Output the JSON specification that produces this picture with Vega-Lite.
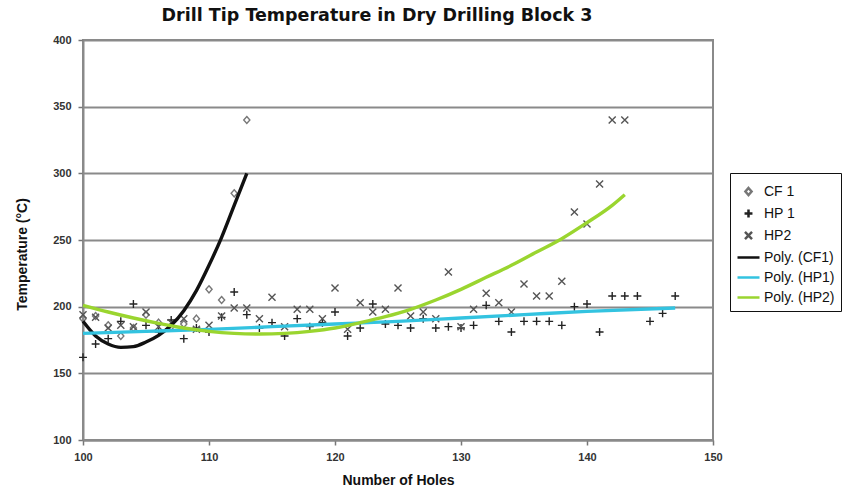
{
  "$schema": "https://vega.github.io/schema/vega-lite/v6.json",
  "width": 630,
  "height": 400,
  "autosize": {"type": "none"},
  "padding": {"left": 83, "top": 40, "right": 135, "bottom": 56},
  "background": "white",
  "config": {
    "font": "Liberation Sans",
    "view": {"stroke": "#8a8a8a", "strokeWidth": 2},
    "axis": {
      "domainColor": "#8a8a8a",
      "domainWidth": 2,
      "tickColor": "#777777",
      "tickWidth": 1.5,
      "tickSize": 5,
      "labelFlush": false,
      "labelFont": "Liberation Sans Narrow, Liberation Sans",
      "labelFontSize": 11,
      "labelFontWeight": "bold",
      "labelColor": "#333333",
      "titleFont": "Liberation Sans Narrow, Liberation Sans",
      "titleFontSize": 14,
      "titleFontWeight": "bold",
      "titleColor": "#111111"
    }
  },
  "title": {
    "text": "Drill Tip Temperature in Dry Drilling Block 3",
    "font": "DejaVu Sans",
    "fontSize": 17.5,
    "fontWeight": "bold",
    "color": "#111111",
    "anchor": "middle",
    "dx": -21,
    "offset": 10
  },
  "datasets": {
    "points": [
      {"hole": 100, "temp": 191, "series": "CF 1"},
      {"hole": 101, "temp": 193, "series": "CF 1"},
      {"hole": 102, "temp": 186, "series": "CF 1"},
      {"hole": 103, "temp": 178, "series": "CF 1"},
      {"hole": 104, "temp": 184, "series": "CF 1"},
      {"hole": 105, "temp": 194, "series": "CF 1"},
      {"hole": 106, "temp": 188, "series": "CF 1"},
      {"hole": 107, "temp": 185, "series": "CF 1"},
      {"hole": 108, "temp": 187, "series": "CF 1"},
      {"hole": 109, "temp": 191, "series": "CF 1"},
      {"hole": 110, "temp": 213, "series": "CF 1"},
      {"hole": 111, "temp": 205, "series": "CF 1"},
      {"hole": 112, "temp": 285, "series": "CF 1"},
      {"hole": 113, "temp": 340, "series": "CF 1"},
      {"hole": 100, "temp": 162, "series": "HP 1"},
      {"hole": 101, "temp": 172, "series": "HP 1"},
      {"hole": 102, "temp": 176, "series": "HP 1"},
      {"hole": 103, "temp": 189, "series": "HP 1"},
      {"hole": 104, "temp": 202, "series": "HP 1"},
      {"hole": 105, "temp": 186, "series": "HP 1"},
      {"hole": 106, "temp": 181, "series": "HP 1"},
      {"hole": 107, "temp": 190, "series": "HP 1"},
      {"hole": 108, "temp": 176, "series": "HP 1"},
      {"hole": 109, "temp": 184, "series": "HP 1"},
      {"hole": 110, "temp": 181, "series": "HP 1"},
      {"hole": 111, "temp": 192, "series": "HP 1"},
      {"hole": 112, "temp": 211, "series": "HP 1"},
      {"hole": 113, "temp": 194, "series": "HP 1"},
      {"hole": 114, "temp": 184, "series": "HP 1"},
      {"hole": 115, "temp": 188, "series": "HP 1"},
      {"hole": 116, "temp": 178, "series": "HP 1"},
      {"hole": 117, "temp": 191, "series": "HP 1"},
      {"hole": 118, "temp": 185, "series": "HP 1"},
      {"hole": 119, "temp": 188, "series": "HP 1"},
      {"hole": 120, "temp": 196, "series": "HP 1"},
      {"hole": 121, "temp": 178, "series": "HP 1"},
      {"hole": 122, "temp": 184, "series": "HP 1"},
      {"hole": 123, "temp": 202, "series": "HP 1"},
      {"hole": 124, "temp": 187, "series": "HP 1"},
      {"hole": 125, "temp": 186, "series": "HP 1"},
      {"hole": 126, "temp": 184, "series": "HP 1"},
      {"hole": 127, "temp": 191, "series": "HP 1"},
      {"hole": 128, "temp": 184, "series": "HP 1"},
      {"hole": 129, "temp": 185, "series": "HP 1"},
      {"hole": 130, "temp": 184, "series": "HP 1"},
      {"hole": 131, "temp": 186, "series": "HP 1"},
      {"hole": 132, "temp": 201, "series": "HP 1"},
      {"hole": 133, "temp": 189, "series": "HP 1"},
      {"hole": 134, "temp": 181, "series": "HP 1"},
      {"hole": 135, "temp": 189, "series": "HP 1"},
      {"hole": 136, "temp": 189, "series": "HP 1"},
      {"hole": 137, "temp": 189, "series": "HP 1"},
      {"hole": 138, "temp": 186, "series": "HP 1"},
      {"hole": 139, "temp": 200, "series": "HP 1"},
      {"hole": 140, "temp": 202, "series": "HP 1"},
      {"hole": 141, "temp": 181, "series": "HP 1"},
      {"hole": 142, "temp": 208, "series": "HP 1"},
      {"hole": 143, "temp": 208, "series": "HP 1"},
      {"hole": 144, "temp": 208, "series": "HP 1"},
      {"hole": 145, "temp": 189, "series": "HP 1"},
      {"hole": 146, "temp": 195, "series": "HP 1"},
      {"hole": 147, "temp": 208, "series": "HP 1"},
      {"hole": 100, "temp": 194, "series": "HP2"},
      {"hole": 101, "temp": 192, "series": "HP2"},
      {"hole": 102, "temp": 184, "series": "HP2"},
      {"hole": 103, "temp": 186, "series": "HP2"},
      {"hole": 104, "temp": 185, "series": "HP2"},
      {"hole": 105, "temp": 196, "series": "HP2"},
      {"hole": 106, "temp": 185, "series": "HP2"},
      {"hole": 107, "temp": 188, "series": "HP2"},
      {"hole": 108, "temp": 191, "series": "HP2"},
      {"hole": 109, "temp": 183, "series": "HP2"},
      {"hole": 110, "temp": 186, "series": "HP2"},
      {"hole": 111, "temp": 193, "series": "HP2"},
      {"hole": 112, "temp": 199, "series": "HP2"},
      {"hole": 113, "temp": 199, "series": "HP2"},
      {"hole": 114, "temp": 191, "series": "HP2"},
      {"hole": 115, "temp": 207, "series": "HP2"},
      {"hole": 116, "temp": 185, "series": "HP2"},
      {"hole": 117, "temp": 198, "series": "HP2"},
      {"hole": 118, "temp": 198, "series": "HP2"},
      {"hole": 119, "temp": 191, "series": "HP2"},
      {"hole": 120, "temp": 214, "series": "HP2"},
      {"hole": 121, "temp": 183, "series": "HP2"},
      {"hole": 122, "temp": 203, "series": "HP2"},
      {"hole": 123, "temp": 196, "series": "HP2"},
      {"hole": 124, "temp": 198, "series": "HP2"},
      {"hole": 125, "temp": 214, "series": "HP2"},
      {"hole": 126, "temp": 193, "series": "HP2"},
      {"hole": 127, "temp": 196, "series": "HP2"},
      {"hole": 128, "temp": 191, "series": "HP2"},
      {"hole": 129, "temp": 226, "series": "HP2"},
      {"hole": 130, "temp": 185, "series": "HP2"},
      {"hole": 131, "temp": 198, "series": "HP2"},
      {"hole": 132, "temp": 210, "series": "HP2"},
      {"hole": 133, "temp": 203, "series": "HP2"},
      {"hole": 134, "temp": 196, "series": "HP2"},
      {"hole": 135, "temp": 217, "series": "HP2"},
      {"hole": 136, "temp": 208, "series": "HP2"},
      {"hole": 137, "temp": 208, "series": "HP2"},
      {"hole": 138, "temp": 219, "series": "HP2"},
      {"hole": 139, "temp": 271, "series": "HP2"},
      {"hole": 140, "temp": 262, "series": "HP2"},
      {"hole": 141, "temp": 292, "series": "HP2"},
      {"hole": 142, "temp": 340, "series": "HP2"},
      {"hole": 143, "temp": 340, "series": "HP2"}
    ],
    "curves": [
      {"hole": 100, "temp": 189, "series": "Poly. (CF1)"},
      {"hole": 101, "temp": 178, "series": "Poly. (CF1)"},
      {"hole": 102, "temp": 172, "series": "Poly. (CF1)"},
      {"hole": 103, "temp": 169.5, "series": "Poly. (CF1)"},
      {"hole": 104, "temp": 170, "series": "Poly. (CF1)"},
      {"hole": 105, "temp": 173.5, "series": "Poly. (CF1)"},
      {"hole": 106, "temp": 178.5, "series": "Poly. (CF1)"},
      {"hole": 107, "temp": 186, "series": "Poly. (CF1)"},
      {"hole": 108, "temp": 197, "series": "Poly. (CF1)"},
      {"hole": 109, "temp": 212, "series": "Poly. (CF1)"},
      {"hole": 110, "temp": 231, "series": "Poly. (CF1)"},
      {"hole": 111, "temp": 252, "series": "Poly. (CF1)"},
      {"hole": 112, "temp": 276, "series": "Poly. (CF1)"},
      {"hole": 113, "temp": 300, "series": "Poly. (CF1)"},
      {"hole": 100, "temp": 180, "series": "Poly. (HP1)"},
      {"hole": 105, "temp": 181.5, "series": "Poly. (HP1)"},
      {"hole": 110, "temp": 183, "series": "Poly. (HP1)"},
      {"hole": 115, "temp": 185, "series": "Poly. (HP1)"},
      {"hole": 120, "temp": 187, "series": "Poly. (HP1)"},
      {"hole": 125, "temp": 189, "series": "Poly. (HP1)"},
      {"hole": 130, "temp": 191.5, "series": "Poly. (HP1)"},
      {"hole": 135, "temp": 194, "series": "Poly. (HP1)"},
      {"hole": 140, "temp": 196.5, "series": "Poly. (HP1)"},
      {"hole": 147, "temp": 199, "series": "Poly. (HP1)"},
      {"hole": 100, "temp": 201, "series": "Poly. (HP2)"},
      {"hole": 102, "temp": 196, "series": "Poly. (HP2)"},
      {"hole": 104, "temp": 191.5, "series": "Poly. (HP2)"},
      {"hole": 106, "temp": 187.5, "series": "Poly. (HP2)"},
      {"hole": 108, "temp": 184, "series": "Poly. (HP2)"},
      {"hole": 110, "temp": 181.5, "series": "Poly. (HP2)"},
      {"hole": 112, "temp": 180, "series": "Poly. (HP2)"},
      {"hole": 114, "temp": 179.5, "series": "Poly. (HP2)"},
      {"hole": 116, "temp": 180, "series": "Poly. (HP2)"},
      {"hole": 118, "temp": 181.5, "series": "Poly. (HP2)"},
      {"hole": 120, "temp": 184, "series": "Poly. (HP2)"},
      {"hole": 122, "temp": 188, "series": "Poly. (HP2)"},
      {"hole": 124, "temp": 192.5, "series": "Poly. (HP2)"},
      {"hole": 126, "temp": 198, "series": "Poly. (HP2)"},
      {"hole": 128, "temp": 205, "series": "Poly. (HP2)"},
      {"hole": 130, "temp": 213, "series": "Poly. (HP2)"},
      {"hole": 132, "temp": 222, "series": "Poly. (HP2)"},
      {"hole": 134, "temp": 231, "series": "Poly. (HP2)"},
      {"hole": 136, "temp": 241, "series": "Poly. (HP2)"},
      {"hole": 138, "temp": 251, "series": "Poly. (HP2)"},
      {"hole": 140, "temp": 263, "series": "Poly. (HP2)"},
      {"hole": 142, "temp": 276, "series": "Poly. (HP2)"},
      {"hole": 143, "temp": 284, "series": "Poly. (HP2)"}
    ]
  },
  "encoding": {
    "x": {
      "field": "hole",
      "type": "quantitative",
      "title": "Number of Holes",
      "scale": {"domain": [100, 150], "nice": false, "zero": false},
      "axis": {"values": [100, 110, 120, 130, 140, 150], "grid": false, "labelPadding": 6, "titlePadding": 11}
    },
    "y": {
      "field": "temp",
      "type": "quantitative",
      "title": "Temperature (°C)",
      "scale": {"domain": [100, 400], "nice": false, "zero": false},
      "axis": {"values": [100, 150, 200, 250, 300, 350, 400], "grid": true, "gridColor": "#8a8a8a", "gridWidth": 2, "labelPadding": 7, "titleX": -61, "titleY": 214, "titleAlign": "center", "titleBaseline": "middle", "titleAngle": 270}
    },
    "color": {
      "field": "series",
      "type": "nominal",
      "scale": {
        "domain": ["CF 1", "HP 1", "HP2", "Poly. (CF1)", "Poly. (HP1)", "Poly. (HP2)"],
        "range": ["#777777", "#222222", "#555555", "#111111", "#33c3e0", "#9ad52f"]
      },
      "legend": {
        "title": null,
        "orient": "none",
        "legendX": 647,
        "legendY": 133,
        "padding": 6,
        "strokeColor": "#111111",
        "symbolSize": 484,
        "symbolStrokeWidth": 2.5,
        "symbolFillColor": "transparent",
        "rowPadding": 0,
        "labelOffset": 3,
        "labelFont": "Liberation Sans",
        "labelFontSize": 14,
        "labelColor": "#111111"
      }
    }
  },
  "layer": [
    {
      "data": {"name": "points"},
      "mark": {"type": "point", "filled": false, "size": 484, "strokeWidth": 1.4, "opacity": 1},
      "encoding": {
        "shape": {
          "field": "series",
          "type": "nominal",
          "scale": {
            "domain": ["CF 1", "HP 1", "HP2", "Poly. (CF1)", "Poly. (HP1)", "Poly. (HP2)"],
            "range": [
              "M0,-0.32L0.28,0L0,0.32L-0.28,0Z",
              "M-0.36,0H0.36M0,-0.36V0.36",
              "M-0.32,-0.32L0.32,0.32M-0.32,0.32L0.32,-0.32",
              "M-1,0H1",
              "M-1,0H1",
              "M-1,0H1"
            ]
          },
          "legend": {
            "title": null,
            "orient": "none",
            "legendX": 647,
            "legendY": 133
          }
        }
      }
    },
    {
      "data": {"name": "curves"},
      "mark": {"type": "line", "strokeWidth": 3.4, "interpolate": "monotone"},
      "encoding": {"detail": {"field": "series"}}
    }
  ]
}
